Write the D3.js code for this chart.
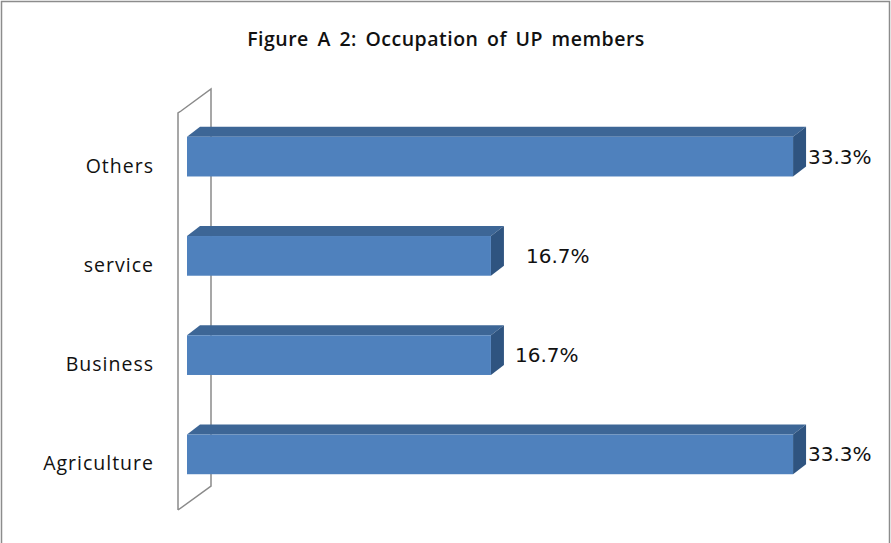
<!DOCTYPE html>
<html>
<head>
<meta charset="utf-8">
<script src="https://cdn.jsdelivr.net/npm/d3@7"></script>
<style>
  html, body { margin: 0; padding: 0; background: #fff; }
  svg { display: block; }
</style>
</head>
<body>
<div id="chart"></div>
<script>
const categories = ['Others', 'service', 'Business', 'Agriculture'];
const shares = [0.333, 0.167, 0.167, 0.333];
const valueLabels = ['33.3%', '16.7%', '16.7%', '33.3%'];
// extra gap between bar end and its label, as placed in the original
const labelGap = [15, 35, 24, 15];

const width = 891;
const height = 543;

const svg = d3.select('#chart')
  .append('svg')
  .attr('width', width)
  .attr('height', height);

// outer frame
svg.append('rect')
  .attr('x', 1.5).attr('y', 1.5)
  .attr('width', width - 3).attr('height', height + 20)
  .attr('fill', '#fff')
  .attr('stroke', '#8c8c8c')
  .attr('stroke-width', 1.5);

svg.append('text')
  .attr('x', 446).attr('y', 46)
  .attr('text-anchor', 'middle')
  .attr('font-family', 'Open Sans, sans-serif')
  .attr('font-weight', 600)
  .attr('font-size', '19.5px')
  .attr('letter-spacing', '0.5px')
  .attr('word-spacing', '3px')
  .attr('fill', '#111')
  .text('Figure A 2: Occupation of UP members');

const x = d3.scaleLinear().domain([0, 0.35]).range([187, 824]);
const y = d3.scaleBand().domain(categories).range([107, 504])
  .paddingInner(0.6).paddingOuter(0.3);

const depthX = 13, depthY = -10;

// thin 3D wall
const wall = { x0: 178, y0: 113, y1: 510, dx: 33, dy: -24 };
svg.append('path')
  .attr('d', `M${wall.x0},${wall.y1} L${wall.x0},${wall.y0} L${wall.x0 + 3},${wall.y0 - 2} L${wall.x0 + wall.dx},${wall.y0 + wall.dy} L${wall.x0 + wall.dx},${wall.y1 + wall.dy} L${wall.x0},${wall.y1}`)
  .attr('fill', 'none')
  .attr('stroke', '#8a8a8a')
  .attr('stroke-width', 1.5);

const rows = categories.map((c, i) => ({ cat: c, v: shares[i], label: valueLabels[i], gap: labelGap[i] }));

const bar = svg.append('g')
  .selectAll('g')
  .data(rows)
  .join('g');

// top face
bar.append('path')
  .attr('d', d => {
    const x0 = x(0), x1 = x(d.v), y0 = y(d.cat);
    return `M${x0},${y0} L${x0 + depthX},${y0 + depthY} L${x1 + depthX},${y0 + depthY} L${x1},${y0} Z`;
  })
  .attr('fill', '#3d6696');

// side face
bar.append('path')
  .attr('d', d => {
    const x1 = x(d.v), y0 = y(d.cat), y1 = y0 + y.bandwidth();
    return `M${x1},${y0} L${x1 + depthX},${y0 + depthY} L${x1 + depthX},${y1 + depthY} L${x1},${y1} Z`;
  })
  .attr('fill', '#2f5480');

// front face
bar.append('rect')
  .attr('x', x(0))
  .attr('y', d => y(d.cat))
  .attr('width', d => x(d.v) - x(0))
  .attr('height', y.bandwidth())
  .attr('fill', '#4f81bd');

bar.append('text')
  .attr('x', d => x(d.v) + d.gap)
  .attr('y', d => y(d.cat) + y.bandwidth() / 2 + 7)
  .attr('font-family', 'DejaVu Sans, sans-serif')
  .attr('font-size', '20px')
  .attr('fill', '#111')
  .text(d => d.label);

// category labels
svg.append('g')
  .selectAll('text')
  .data(categories)
  .join('text')
  .attr('x', 154)
  .attr('y', d => y(d) + y.bandwidth() / 2 + 16)
  .attr('text-anchor', 'end')
  .attr('font-family', 'Open Sans, sans-serif')
  .attr('font-size', '19.5px')
  .attr('letter-spacing', '1px')
  .attr('fill', '#111')
  .text(d => d);
</script>
</body>
</html>
